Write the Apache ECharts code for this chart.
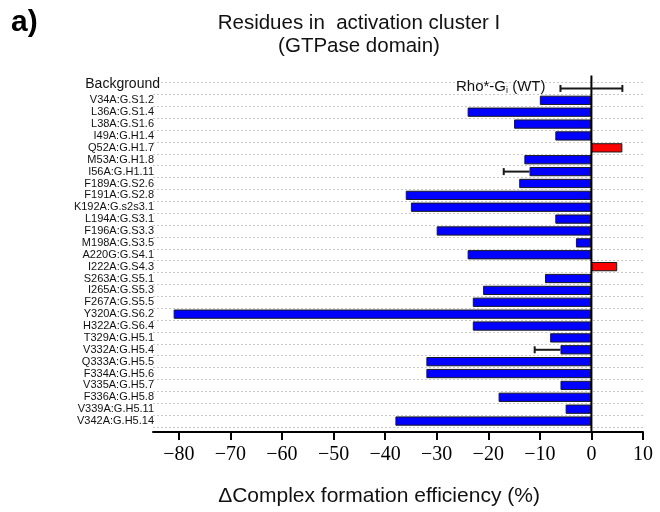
<!DOCTYPE html>
<html>
<head>
<meta charset="utf-8">
<script src="https://cdn.jsdelivr.net/npm/echarts@6/dist/echarts.min.js"></script>
<style>
  html, body { margin: 0; padding: 0; background: #fff; }
  #chart { width: 660px; height: 512px; }
</style>
</head>
<body>
<div id="chart"></div>
<script>
// Alanine-scan mutants of the G-protein, activation cluster I (GTPase domain)
const categories = [
  'Background',
  'V34A:G.S1.2', 'L36A:G.S1.4', 'L38A:G.S1.6', 'I49A:G.H1.4', 'Q52A:G.H1.7',
  'M53A:G.H1.8', 'I56A:G.H1.11', 'F189A:G.S2.6', 'F191A:G.S2.8', 'K192A:G.s2s3.1',
  'L194A:G.S3.1', 'F196A:G.S3.3', 'M198A:G.S3.5', 'A220G:G.S4.1', 'I222A:G.S4.3',
  'S263A:G.S5.1', 'I265A:G.S5.3', 'F267A:G.S5.5', 'Y320A:G.S6.2', 'H322A:G.S6.4',
  'T329A:G.H5.1', 'V332A:G.H5.4', 'Q333A:G.H5.5', 'F334A:G.H5.6', 'V335A:G.H5.7',
  'F336A:G.H5.8', 'V339A:G.H5.11', 'V342A:G.H5.14'
];

// Change in complex formation efficiency relative to wild type (%); no bar for the background row
const efficiencyChange = [
  null,
  -10, -24, -15, -7, 6,
  -13, -12, -14, -36, -35,
  -7, -30, -3, -24, 5,
  -9, -21, -23, -81, -23,
  -8, -6, -32, -32, -6,
  -18, -5, -38
];

// Error bars: [category, low end, high end, caps on both ends]
const errorBars = [
  ['Background', -6, 6, 1],
  ['I56A:G.H1.11', -17, -12, 0],
  ['V332A:G.H5.4', -11, -6, 0]
];

const xTicks = [-80, -70, -60, -50, -40, -30, -20, -10, 0, 10];
const xMin = -85;
const xMax = 10;

const wtLabel = 'Rho*-G{sub|i} (WT)';
const titleText = 'Residues in  activation cluster I\n(GTPase domain)';
const axisTitle = '\u0394Complex formation efficiency (%)';

const increaseColor = '#ff0000';
const decreaseColor = '#0000ff';

const chart = echarts.init(document.getElementById('chart'), null, { renderer: 'canvas' });

const barData = efficiencyChange.map(v => v === null ? '-' : {
  value: v,
  itemStyle: { color: v > 0 ? increaseColor : decreaseColor }
});

const option = {
  backgroundColor: '#ffffff',
  animation: false,
  textStyle: { fontFamily: 'Liberation Sans, Arial, sans-serif' },
  graphic: [
    {
      type: 'text', left: 11, top: 8,
      style: { text: 'a)', font: 'bold 30px Liberation Sans, Arial, sans-serif', fill: '#000' }
    },
    {
      type: 'text', x: 359, y: 12,
      style: {
        text: titleText, align: 'center', verticalAlign: 'top',
        font: '20.5px Liberation Sans, Arial, sans-serif', lineHeight: 23, fill: '#111'
      }
    }
  ],
  grid: { left: 153, right: 17, top: 82.5, height: 351, containLabel: false },
  xAxis: {
    type: 'value',
    min: xMin,
    max: xMax,
    offset: 5,
    splitLine: { show: false },
    axisLine: { show: true, onZero: false, lineStyle: { color: '#000', width: 2 } },
    axisTick: {
      show: true, length: 8, inside: false, customValues: xTicks,
      lineStyle: { color: '#000', width: 2 }
    },
    axisLabel: {
      customValues: xTicks,
      margin: 13,
      fontFamily: 'Liberation Serif, Times New Roman, serif',
      fontSize: 20,
      color: '#000',
      formatter: v => (v < 0 ? '\u2212' + Math.abs(v) : String(v))
    },
    name: axisTitle,
    nameLocation: 'middle',
    nameGap: 54,
    nameTextStyle: {
      fontFamily: 'Liberation Sans, Arial, sans-serif',
      fontSize: 21, color: '#111',
      padding: [0, 38, 0, 0]
    }
  },
  yAxis: {
    type: 'category',
    data: categories,
    inverse: true,
    axisLine: { show: false },
    axisTick: { show: false },
    splitLine: { show: true, lineStyle: { color: '#c8c8c8', type: [2, 2], width: 1 } },
    axisLabel: {
      margin: -1,
      fontSize: 11,
      color: '#111',
      interval: 0,
      formatter: (v, i) => (i === 0 ? '{bg|' + v + '}' : v),
      rich: { bg: { fontSize: 14, padding: [0, -6, 9, 0], color: '#111' } }
    }
  },
  series: [
    {
      type: 'bar',
      data: barData,
      barCategoryGap: '22%',
      itemStyle: { borderColor: '#1a1a1a', borderWidth: 1 },
      z: 2
    },
    {
      // vertical reference line at zero
      type: 'custom',
      data: [[0, 'Background']],
      encode: { x: 0, y: 1 },
      z: 4,
      silent: true,
      renderItem: (params, api) => {
        const cs = params.coordSys;
        const x = api.coord([0, 0])[0];
        return {
          type: 'line',
          shape: { x1: x, y1: cs.y - 7, x2: x, y2: cs.y + cs.height + 5 },
          style: { stroke: '#000', lineWidth: 2 }
        };
      }
    },
    {
      type: 'custom',
      data: errorBars,
      encode: { y: 0, x: [1, 2] },
      z: 5,
      silent: true,
      renderItem: (params, api) => {
        const cat = api.value(0);
        const lo = api.coord([api.value(1), cat]);
        const hi = api.coord([api.value(2), cat]);
        const both = api.value(3) === 1;
        const cap = 3.5;
        const style = { stroke: '#1a1a1a', lineWidth: 2 };
        const children = [
          { type: 'line', shape: { x1: lo[0], y1: lo[1], x2: hi[0], y2: hi[1] }, style },
          { type: 'line', shape: { x1: lo[0], y1: lo[1] - cap, x2: lo[0], y2: lo[1] + cap }, style }
        ];
        if (both) {
          children.push({ type: 'line', shape: { x1: hi[0], y1: hi[1] - cap, x2: hi[0], y2: hi[1] + cap }, style });
          children.push({
            type: 'text',
            style: {
              text: wtLabel,
              x: lo[0] - 15, y: lo[1] - 2,
              align: 'right', verticalAlign: 'middle',
              font: '15px Liberation Sans, Arial, sans-serif',
              fill: '#111',
              rich: { sub: { fontSize: 9, padding: [8, 0, 0, 0], fill: '#111' } }
            }
          });
        }
        return { type: 'group', children };
      }
    }
  ]
};

chart.setOption(option);
</script>
</body>
</html>
